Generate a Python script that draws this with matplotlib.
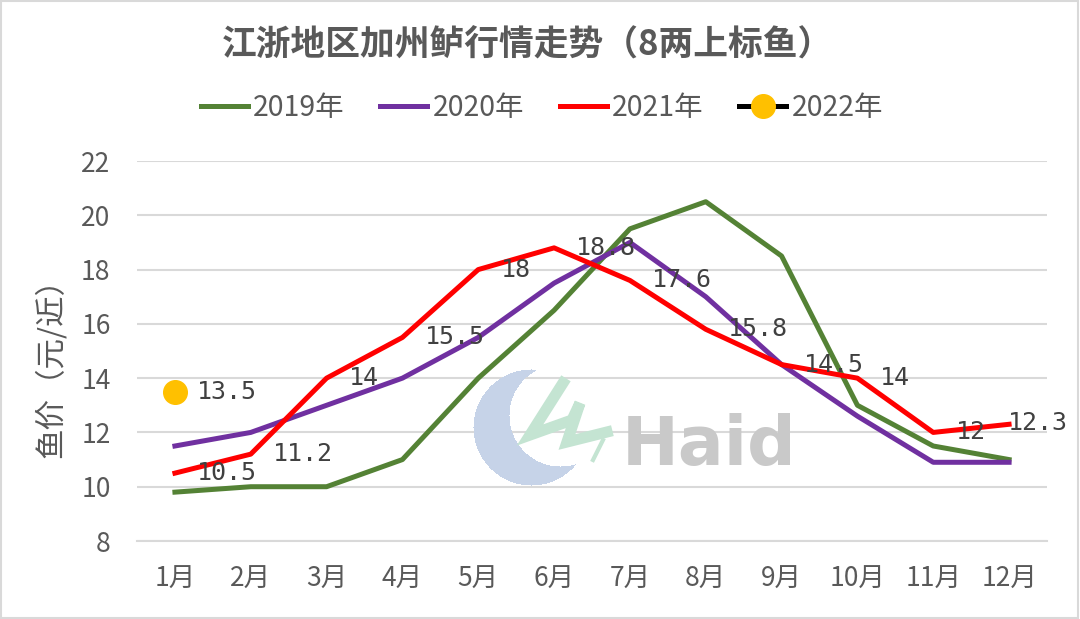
import numpy as np
import matplotlib
matplotlib.use('Agg')
import matplotlib.pyplot as plt

plt.rcParams['font.family'] = ['Noto Sans CJK SC', 'DejaVu Sans']

# data
months = ['1月', '2月', '3月', '4月', '5月', '6月', '7月', '8月', '9月', '10月', '11月', '12月']
price_2019 = [9.8, 10, 10, 11, 14, 16.5, 19.5, 20.5, 18.5, 13, 11.5, 11]
price_2020 = [11.5, 12, 13, 14, 15.5, 17.5, 19, 17, 14.5, 12.6, 10.9, 10.9]
price_2021 = [10.5, 11.2, 14, 15.5, 18, 18.8, 17.6, 15.8, 14.5, 14, 12, 12.3]
price_2022 = [13.5]
years = ['2019年', '2020年', '2021年', '2022年']

W, H = 1080, 619
fig = plt.figure(figsize=(W / 100, H / 100), dpi=100)
fig.patch.set_facecolor('white')

ax = fig.add_axes([137 / W, 1 - 541 / H, 910 / W, 380 / H])
ax.patch.set_alpha(0)

# watermark (Haid logo) drawn under the transparent axes
yy, xx = np.mgrid[0:H, 0:W]
outer = (xx - 531) ** 2 + (yy - 427) ** 2 <= 58 ** 2
inner = (xx - 560) ** 2 + (yy - 415) ** 2 <= 51 ** 2
img = np.zeros((H, W, 4))
img[outer & ~inner] = [0.78, 0.83, 0.91, 1.0]
fig.figimage(img[::-1], 0, 0, zorder=0, origin='lower')
brush_x = np.array([563, 530, 572, 580, 567, 607])
brush_y = np.array([383, 435, 420, 403, 442, 432])
fig.add_artist(plt.Line2D(brush_x / W, 1 - brush_y / H, color='#c4e4d2', lw=8,
                          solid_joinstyle='miter', zorder=0.5))
fig.add_artist(plt.Line2D(np.array([603, 593]) / W, 1 - np.array([440, 460]) / H,
                          color='#c4e4d2', lw=3, zorder=0.5))
fig.text(622 / W, 1 - 465 / H, 'Haid', fontsize=49, fontweight='bold', color='#c9c9c9',
         family='DejaVu Sans', ha='left', va='baseline', zorder=0.6)

# figure border
fig.add_artist(plt.Rectangle((0.001, 0.002), 0.997, 0.996, transform=fig.transFigure,
                             fill=False, edgecolor='#d9d9d9', lw=1.5, zorder=0.2))

x = np.arange(len(months))
ax.plot(x, price_2019, color='#548235', lw=3.6, label=years[0], zorder=3)
ax.plot(x, price_2020, color='#7030a0', lw=3.6, label=years[1], zorder=3)
ax.plot(x, price_2021, color='#ff0000', lw=3.6, label=years[2], zorder=3)
ax.plot(x[:len(price_2022)], price_2022, color='black', lw=3.6, marker='o', markersize=17,
        markerfacecolor='#ffc000', markeredgecolor='#ffc000', label=years[3], zorder=4)

# data labels to the right of the points (last one pulled in so it fits)
for i, (xi, v) in enumerate(zip(x, price_2021)):
    dx, dy = (16, 0) if i < len(price_2021) - 1 else (-1, 1)
    ax.annotate(f'{v:g}', (xi, v), xytext=(dx, dy), textcoords='offset points',
                ha='left', va='center', fontsize=18, color='#404040', family='DejaVu Sans Mono', zorder=5)
for xi, v in zip(x, price_2022):
    ax.annotate(f'{v:g}', (xi, v), xytext=(16, 0), textcoords='offset points',
                ha='left', va='center', fontsize=18, color='#404040', family='DejaVu Sans Mono', zorder=5)

ax.set_xlim(-0.5, len(months) - 0.5)
ax.set_ylim(8, 22)
ax.set_yticks(np.arange(8, 23, 2))
ax.set_xticks(x)
ax.set_xticklabels(months)
ax.grid(axis='y', color='#d9d9d9', lw=1.5, zorder=1)
ax.set_axisbelow(True)
for s in ['top', 'right', 'left']:
    ax.spines[s].set_visible(False)
ax.spines['bottom'].set_color('#d9d9d9')
ax.spines['bottom'].set_linewidth(1.5)
ax.tick_params(axis='both', length=0, labelsize=19, labelcolor='#595959')
ax.tick_params(axis='y', pad=19)
ax.tick_params(axis='x', pad=18)

ax.set_ylabel('鱼价（元/近）', fontsize=22, color='#595959')
ax.yaxis.set_label_coords(-0.077, 0.476)

fig.text(527 / W, 1 - 45 / H, '江浙地区加州鲈行情走势（8两上标鱼）', fontsize=25, fontweight='bold',
         color='#595959', ha='center', va='center')

leg = fig.legend(loc='center', bbox_to_anchor=(542 / W, 1 - 108 / H), ncol=4, frameon=False,
                 fontsize=20.5, handlelength=1.65, handletextpad=0.2, columnspacing=1.24,
                 labelcolor='#595959')

fig.savefig('out.png', dpi=100, facecolor='white')
